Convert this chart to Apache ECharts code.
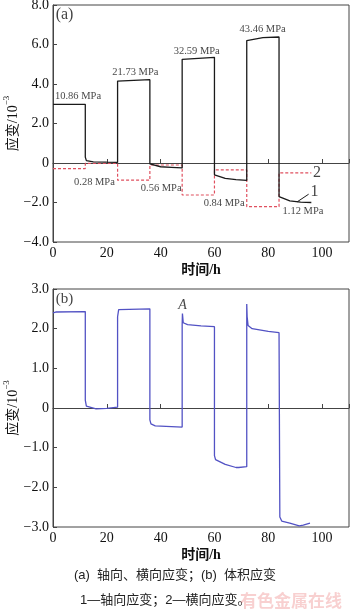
<!DOCTYPE html>
<html><head><meta charset="utf-8">
<script src="https://cdn.jsdelivr.net/npm/echarts@6/dist/echarts.min.js"></script>
<style>html,body{margin:0;padding:0;background:#fff}#c{width:350px;height:615px}</style>
</head><body><div id="c"></div>
<script>
// ---- data ----
const axialT = [0, 12, 12, 12.4, 15, 20, 24, 24, 24.4, 36, 36, 36.4, 40, 44, 48, 48, 48.4, 60, 60, 60.4, 64, 68, 72, 72, 72.6, 78, 84, 84, 84.4, 88, 92, 96];
const axialV = [2.97, 2.97, 0.3, 0.12, 0.06, 0.04, 0.03, 4.15, 4.2, 4.22, -0.05, -0.12, -0.19, -0.22, -0.25, 5.25, 5.33, 5.35, -0.6, -0.7, -0.78, -0.84, -0.88, 6.2, 6.3, 6.35, 6.38, -1.7, -1.8, -1.92, -1.98, -2.0];
const lateralT = [0, 12, 12, 24, 24, 36, 36, 48, 48, 60, 60, 72, 72, 84, 84, 96];
const lateralV = [-0.28, -0.28, -0.02, -0.02, -0.87, -0.87, -0.1, -0.1, -1.62, -1.62, -0.35, -0.35, -2.21, -2.21, -0.5, -0.5];
const volT = [0, 1, 12, 12, 12.4, 13, 16, 20, 24, 24, 24.4, 36, 36, 36.4, 38, 48, 48, 48.1, 48.4, 50, 55, 60, 60, 60.4, 64, 68, 68.5, 69, 72, 72, 72.15, 72.5, 74, 80, 84, 84.3, 85, 88, 91.5, 93, 95.5];
const volV = [2.4, 2.42, 2.43, 0.2, 0.05, 0.01, -0.02, -0.01, 0.02, 2.3, 2.48, 2.5, -0.3, -0.4, -0.45, -0.48, 2.1, 2.38, 2.15, 2.1, 2.07, 2.05, -1.2, -1.3, -1.42, -1.5, -1.55, -1.5, -1.48, 2.62, 2.3, 2.08, 2.0, 1.93, 1.9, -2.75, -2.85, -2.9, -2.97, -2.95, -2.9];
const xTicks = [0, 20, 40, 60, 80, 100];
const yTicksA = {"8": "8.0", "6": "6.0", "4": "4.0", "2": "2.0", "0": "0", "-2": "\u22122.0", "-4": "\u22124.0"};
const yTicksB = {"3": "3.0", "2": "2.0", "1": "1.0", "0": "0", "-1": "\u22121.0", "-2": "\u22122.0", "-3": "\u22123.0"};
const pressA_T = [9.3, 30.6, 53.4, 77.9];
const pressA_V = [3.36, 4.62, 5.64, 6.75];
const pressA_L = ["10.86 MPa", "21.73 MPa", "32.59 MPa", "43.46 MPa"];
const pressB_T = [15.4, 40.2, 63.6, 92.9];
const pressB_V = [-0.96, -1.27, -2.03, -2.43];
const pressB_L = ["0.28 MPa", "0.56 MPa", "0.84 MPa", "1.12 MPa"];

const zip = (t, v) => t.map((x, i) => [x, v[i]]);
const serif = "'Liberation Serif','Times New Roman',serif";
const cjk = "'Liberation Serif','Noto Sans CJK SC',sans-serif";
const axisCol = '#444';

function xAxis(idx) {
  return {
    gridIndex: idx, type: 'value', min: 0, max: 110, interval: 20,
    axisLine: {lineStyle: {color: axisCol, width: 1}},
    axisTick: {inside: true, length: 4, lineStyle: {color: axisCol}},
    splitLine: {show: false},
    axisLabel: {color: '#111', fontFamily: serif, fontSize: 14, margin: 4,
      formatter: v => xTicks.includes(v) ? String(v) : ''},
    name: '时间/h', nameLocation: 'middle', nameGap: 21, nameMoveOverlap: false,
    nameTextStyle: {color: '#111', fontFamily: cjk, fontSize: 14, fontWeight: 'bold'}
  };
}
function yAxis(idx, min, max, interval, labels) {
  return {
    gridIndex: idx, type: 'value', min: min, max: max, interval: interval,
    axisLine: {show: true, lineStyle: {color: axisCol, width: 1}},
    axisTick: {show: true, inside: true, length: 4, lineStyle: {color: axisCol}},
    splitLine: {show: false},
    axisLabel: {color: '#111', fontFamily: serif, fontSize: 14, margin: 4,
      formatter: v => labels[String(v)] || ''},
    name: '{n|应变/10}{s|−3}', nameLocation: 'middle', nameGap: 33, nameRotate: 90, nameMoveOverlap: false,
    nameTextStyle: {color: '#111', fontFamily: cjk, fontSize: 14,
      rich: {n: {fontFamily: cjk, fontSize: 14, lineHeight: 18, verticalAlign: 'bottom'},
             s: {fontFamily: serif, fontSize: 9, lineHeight: 18, verticalAlign: 'top', padding: [0, 0, 6, 0]}}}
  };
}
function labelSeries(xi, t, v, l, size, extra) {
  return {
    type: 'scatter', xAxisIndex: xi, yAxisIndex: xi, symbolSize: 0, silent: true,
    data: t.map((x, i) => ({value: [x, v[i]], label: {formatter: l[i]}})),
    label: Object.assign({show: true, position: 'inside', color: '#111', fontFamily: serif, fontSize: size}, extra || {})
  };
}

const chart = echarts.init(document.getElementById('c'), null, {renderer: 'canvas'});
chart.setOption({
  animation: false,
  backgroundColor: '#fff',
  grid: [
    {left: 53, top: 5, width: 296, height: 237, show: true, borderColor: axisCol, borderWidth: 1, containLabel: false, outerBoundsMode: 'none'},
    {left: 53, top: 289, width: 296, height: 238, show: true, borderColor: axisCol, borderWidth: 1, containLabel: false, outerBoundsMode: 'none'}
  ],
  xAxis: [xAxis(0), xAxis(1)],
  yAxis: [yAxis(0, -4, 8, 2, yTicksA), yAxis(1, -3, 3, 1, yTicksB)],
  series: [
    {type: 'line', xAxisIndex: 0, yAxisIndex: 0, data: zip(lateralT, lateralV), symbol: 'none',
      lineStyle: {color: '#e0505f', width: 1.2, type: [3, 2]}},
    {type: 'line', xAxisIndex: 0, yAxisIndex: 0, data: zip(axialT, axialV), symbol: 'none',
      lineStyle: {color: '#1a1a1a', width: 1.3}},
    {type: 'line', xAxisIndex: 0, yAxisIndex: 0, data: [[90.7, -1.97], [95.0, -1.58]], symbol: 'none',
      lineStyle: {color: '#1a1a1a', width: 1}},
    {type: 'line', xAxisIndex: 1, yAxisIndex: 1, data: zip(volT, volV), symbol: 'none',
      lineStyle: {color: '#5252c4', width: 1.3}},
    labelSeries(0, pressA_T, pressA_V, pressA_L, 10.5),
    labelSeries(0, pressB_T, pressB_V, pressB_L, 10.5),
    labelSeries(0, [98.1, 97.2, 4.3], [-0.5, -1.47, 7.5], ['2', '1', '(a)'], 16),
    labelSeries(1, [4.3], [2.75], ['(b)'], 15),
    labelSeries(1, [48.1], [2.58], ['A'], 14, {fontStyle: 'italic'})
  ],
  graphic: [
    {type: 'text', left: 'center', top: 569, style: {text: '(a)  轴向、横向应变；(b)  体积应变', fill: '#222',
      font: "13px 'Liberation Sans','Noto Sans CJK SC',sans-serif"}},
    {type: 'text', left: 80, top: 594, style: {text: '1—轴向应变；2—横向应变。', fill: '#222',
      font: "13px 'Liberation Sans','Noto Sans CJK SC',sans-serif"}},
    {type: 'text', left: 240, top: 592, style: {text: '有色金属在线', fill: 'rgba(235,120,120,0.35)',
      font: "bold 17px 'Noto Sans CJK SC',sans-serif"}}
  ]
});
</script>
</body></html>
